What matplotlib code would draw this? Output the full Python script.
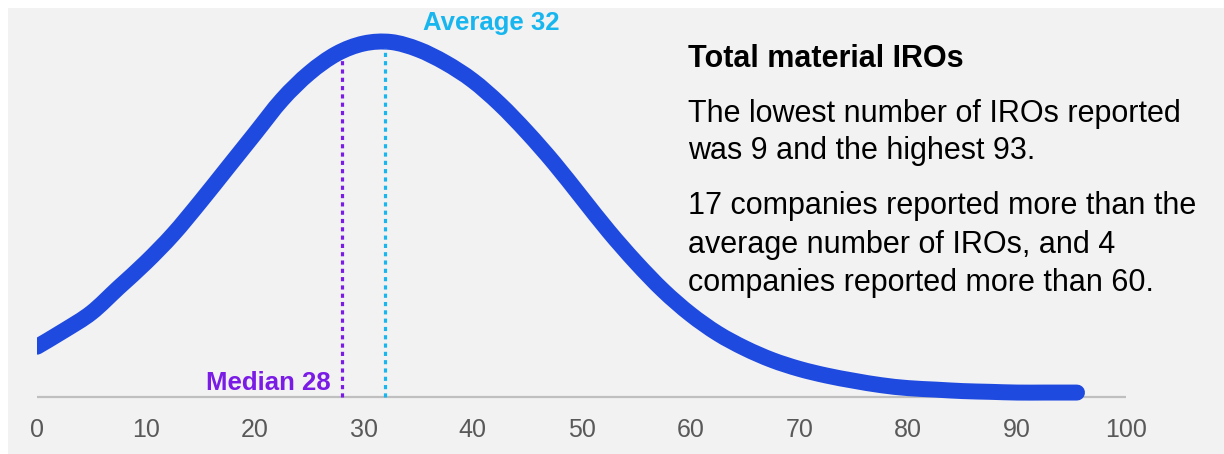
import numpy as np
import matplotlib.pyplot as plt
from matplotlib.patches import Rectangle, PathPatch
from matplotlib.path import Path

plt.rcParams['font.family'] = ['Liberation Sans', 'DejaVu Sans']

# Distribution of material IROs (relative density)
iro_count = [0, 2.5, 5, 7.5, 10, 12.5, 15, 17.5, 20, 22.5, 25, 27.5, 30, 32.5,
             35, 37.5, 40, 42.5, 45, 47.5, 50, 52.5, 55, 57.5, 60, 62.5, 65,
             67.5, 70, 72.5, 75, 77.5, 80, 82.5, 85, 87.5, 90, 92.5, 95.5]
density = [0.34, 0.45, 0.57, 0.74, 0.91, 1.10, 1.32, 1.55, 1.78, 2.01, 2.19,
           2.32, 2.39, 2.40, 2.35, 2.26, 2.14, 1.98, 1.79, 1.58, 1.35, 1.12,
           0.91, 0.72, 0.56, 0.43, 0.33, 0.25, 0.19, 0.145, 0.11, 0.08, 0.06,
           0.05, 0.04, 0.035, 0.03, 0.03, 0.03]
median_val = 28
average_val = 32
median_top = 2.28
average_top = 2.36
ticks = list(range(0, 101, 10))

title = 'Total material IROs'
para1 = ['The lowest number of IROs reported', 'was 9 and the highest 93.']
para2 = ['17 companies reported more than the', 'average number of IROs, and 4',
         'companies reported more than 60.']

BLUE = '#1f4ae0'
PURPLE = '#7a1be6'
CYAN = '#18b6ef'
GREY_BG = '#f2f2f2'


def smooth_path(xs, ys):
    # smoothed line (Catmull-Rom as cubic Bezier segments), like a smoothed chart line
    pts = np.column_stack([xs, ys]).astype(float)
    verts = [pts[0]]
    codes = [Path.MOVETO]
    n = len(pts)
    for i in range(n - 1):
        p0 = pts[max(i - 1, 0)]
        p1 = pts[i]
        p2 = pts[i + 1]
        p3 = pts[min(i + 2, n - 1)]
        verts += [p1 + (p2 - p0) / 6, p2 - (p3 - p1) / 6, p2]
        codes += [Path.CURVE4] * 3
    return Path(verts, codes)


W, H = 1224, 454
fig = plt.figure(figsize=(W / 100, H / 100), dpi=100, facecolor='white')
fig.patches.append(Rectangle((8 / W, 0), 1 - 8 / W, 1 - 8 / H,
                             transform=fig.transFigure, facecolor=GREY_BG,
                             edgecolor='none', zorder=-10))

# axes: x=0 at px 37, x=100 at px 1126, y=0 at px 397
px_per_unit = 355 / 2.40
ax_bottom, ax_top = 405, 20
ax = fig.add_axes([37 / W, 1 - ax_bottom / H, (1126 - 37) / W, (ax_bottom - ax_top) / H])
ax.set_facecolor('none')
ax.set_xlim(0, 100)
ax.set_ylim(-(ax_bottom - 397) / px_per_unit, (397 - ax_top) / px_per_unit)

curve = PathPatch(smooth_path(iro_count, density), facecolor='none',
                  edgecolor=BLUE, lw=11.5, capstyle='round', joinstyle='round',
                  zorder=3)
ax.add_patch(curve)
ax.axhline(0, color='#bfbfbf', lw=1.6, zorder=1)

ax.vlines(median_val, 0, median_top, colors=PURPLE, lw=2.3,
          linestyles=(0, (1.3, 1.3)), zorder=4)
ax.vlines(average_val, 0, average_top, colors=CYAN, lw=2.3,
          linestyles=(0, (1.3, 1.3)), zorder=4)

ax.text(median_val - 1.0, 0.05, f'Median {median_val}', color=PURPLE,
        fontsize=18.5, fontweight='bold', ha='right', va='baseline')
ax.text(average_val + 3.4, 2.48, f'Average {average_val}', color=CYAN,
        fontsize=18.5, fontweight='bold', ha='left', va='baseline')

ax.set_xticks(ticks)
ax.set_xticklabels([str(t) for t in ticks])
ax.tick_params(axis='x', length=0, pad=9.5, labelsize=18, labelcolor='#595959')
ax.set_yticks([])
for s in ax.spines.values():
    s.set_visible(False)

# side text
tx = 688 / W
fig.text(tx, 1 - 67 / H, title, fontsize=22, fontweight='bold', color='black',
         va='baseline')
for i, line in enumerate(para1):
    fig.text(tx, 1 - (122 + 37.5 * i) / H, line, fontsize=22, color='black',
             va='baseline')
for i, line in enumerate(para2):
    fig.text(tx, 1 - (214 + 38.5 * i) / H, line, fontsize=22, color='black',
             va='baseline')

fig.savefig('out.png', dpi=100, facecolor='white')
